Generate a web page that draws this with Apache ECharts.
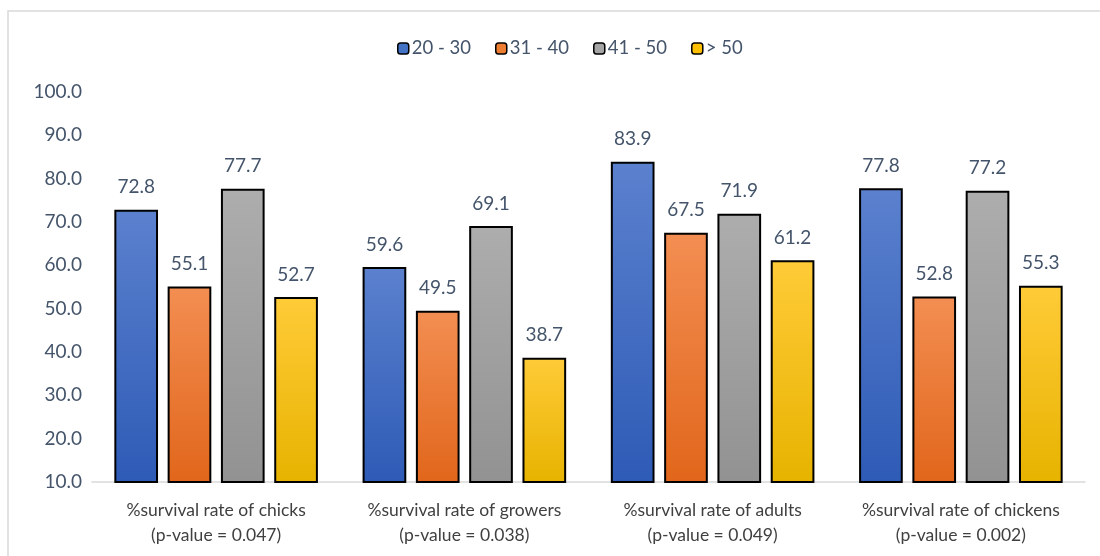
<!DOCTYPE html>
<html>
<head>
<meta charset="utf-8">
<script src="https://cdn.jsdelivr.net/npm/echarts@6/dist/echarts.min.js"></script>
<style>html,body{margin:0;padding:0;background:#fff;}#c{width:1100px;height:556px;}</style>
</head>
<body>
<div id="c"></div>
<script>
var categories = ['%survival rate of chicks\n(p-value = 0.047)', '%survival rate of growers\n(p-value = 0.038)', '%survival rate of adults\n(p-value = 0.049)', '%survival rate of chickens\n(p-value = 0.002)'];
var seriesNames = ['20 - 30', '31 - 40', '41 - 50', '> 50'];
var s2030 = [72.8, 59.6, 83.9, 77.8];
var s3140 = [55.1, 49.5, 67.5, 52.8];
var s4150 = [77.7, 69.1, 71.9, 77.2];
var s50 = [52.7, 38.7, 61.2, 55.3];
var yTicks = [10, 20, 30, 40, 50, 60, 70, 80, 90, 100];

var topColors = ['#5B81CE', '#F38E52', '#ADADAD', '#FFCB38'];
var botColors = ['#2E5BB6', '#E1661B', '#929292', '#E7B300'];
var legendColors = ['#4472C4', '#ED7D31', '#A5A5A5', '#FFC000'];
var allData = [s2030, s3140, s4150, s50];
var FONT = 'Lato';

function grad(i){
  return new echarts.graphic.LinearGradient(0,0,0,1,[{offset:0,color:topColors[i]},{offset:1,color:botColors[i]}]);
}

var series = allData.map(function(d,i){
  return {
    name: seriesNames[i], type:'bar', data:d,
    barGap:'22%', barCategoryGap:'18%',
    itemStyle:{color:grad(i), borderColor:'#000', borderWidth:2},
    label:{show:true, position:'top', distance:13, formatter:function(p){return p.value.toFixed(1);}, color:'#44546A', fontSize:19, fontFamily:FONT}
  };
});

var chart = echarts.init(document.getElementById('c'));
chart.setOption({
  animation:false,
  graphic:[{type:'rect', shape:{x:8,y:11,width:1200,height:600}, style:{fill:'none', stroke:'#D9D9D9', lineWidth:1.5}, silent:true}],
  legend:{
    top:34, left:392, itemWidth:11, itemHeight:11, itemGap:24,
    textStyle:{color:'#44546A', fontSize:18.5, fontFamily:FONT, padding:[0,0,0,-2]},
    data: seriesNames.map(function(n,i){return {name:n, itemStyle:{color:legendColors[i], borderColor:'#000', borderWidth:1.5}};})
  },
  grid:{left:92, right:15, top:92, bottom:74},
  xAxis:{
    type:'category', data:categories,
    axisLine:{lineStyle:{color:'#D9D9D9', width:1.5}}, axisTick:{show:false},
    axisLabel:{interval:0, color:'#404040', fontSize:17.5, fontFamily:FONT, lineHeight:25, margin:16}
  },
  yAxis:{
    type:'value', min:10, max:100, interval:10,
    axisLine:{show:false}, axisTick:{show:false}, splitLine:{show:false},
    axisLabel:{color:'#44546A', fontSize:19, fontFamily:FONT, margin:10, formatter:function(v){return v.toFixed(1);}}
  },
  series: series
});
</script>
</body>
</html>
